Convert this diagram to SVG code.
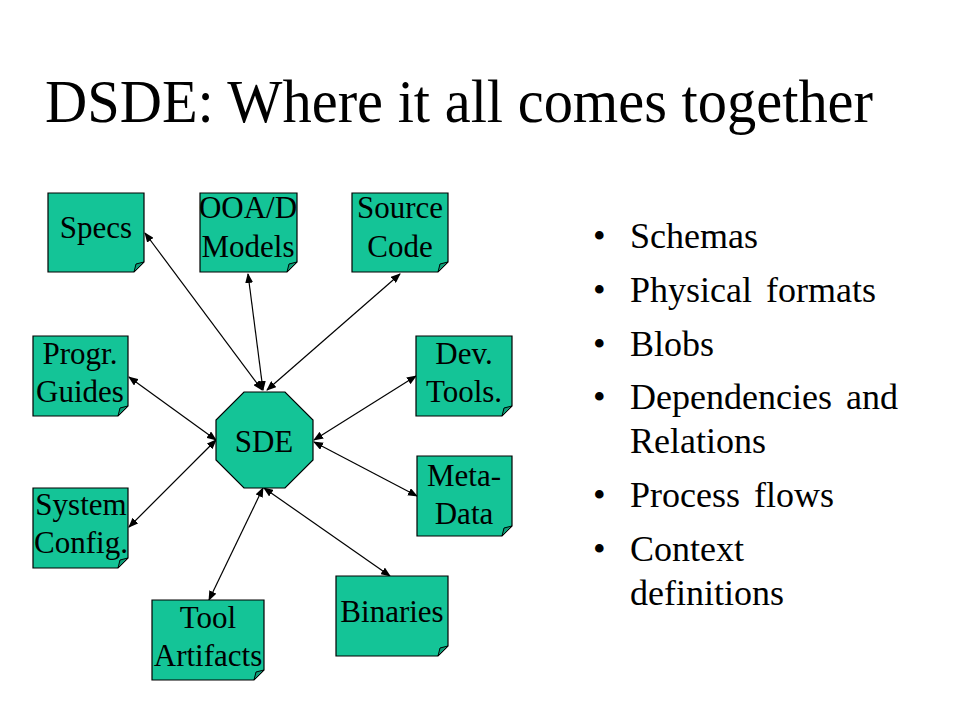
<svg xmlns="http://www.w3.org/2000/svg" width="960" height="720" viewBox="0 0 960 720">
<defs>
<style>
.box{fill:#14C497;stroke:#000;stroke-width:1.2}
.fold{fill:#0E9C76;stroke:#000;stroke-width:1}
.lbl{font-family:"Liberation Serif","Times New Roman",serif;font-size:31px;fill:#000;text-anchor:middle}
.conn{stroke:#000;stroke-width:1.2;fill:none;marker-start:url(#ah);marker-end:url(#ah)}
.bul{font-family:"Liberation Serif","Times New Roman",serif;font-size:36px;fill:#000;word-spacing:5px}
</style>
<marker id="ah" viewBox="0 0 10 8" refX="9" refY="4" markerWidth="10" markerHeight="8" markerUnits="userSpaceOnUse" orient="auto-start-reverse">
<path d="M0,0 L10,4 L0,8 z" fill="#000"/>
</marker>
</defs>
<rect width="960" height="720" fill="#fff"/>
<text x="45" y="122" font-family="Liberation Serif,Times New Roman,serif" font-size="62" textLength="828" lengthAdjust="spacingAndGlyphs">DSDE: Where it all comes together</text>

<g id="connectors">
<line class="conn" x1="145" y1="233" x2="262" y2="390"/>
<line class="conn" x1="248" y1="274" x2="263" y2="390"/>
<line class="conn" x1="400" y1="274" x2="267" y2="390"/>
<line class="conn" x1="129" y1="377" x2="216" y2="440"/>
<line class="conn" x1="129" y1="527" x2="216" y2="440"/>
<line class="conn" x1="416" y1="376" x2="314" y2="440"/>
<line class="conn" x1="314" y1="442" x2="417" y2="496"/>
<line class="conn" x1="209" y1="600" x2="263" y2="488"/>
<line class="conn" x1="264" y1="488" x2="390" y2="576"/>
</g>

<g id="specs">
<path class="box" d="M48,193 H144 V262 L134,272 H48 Z"/>
<path class="fold" d="M134,272 L144,262 L136,264 Z"/>
<text class="lbl" x="96" y="238">Specs</text>
</g>
<g id="ooad">
<path class="box" d="M200,193 H297 V262 L287,272 H200 Z"/>
<path class="fold" d="M287,272 L297,262 L289,264 Z"/>
<text class="lbl" x="248" y="218">OOA/D</text>
<text class="lbl" x="248" y="257">Models</text>
</g>
<g id="source">
<path class="box" d="M352,193 H448 V262 L438,272 H352 Z"/>
<path class="fold" d="M438,272 L448,262 L440,264 Z"/>
<text class="lbl" x="400" y="218">Source</text>
<text class="lbl" x="400" y="257">Code</text>
</g>
<g id="progr">
<path class="box" d="M33,336 H128 V406 L118,416 H33 Z"/>
<path class="fold" d="M118,416 L128,406 L120,408 Z"/>
<text class="lbl" x="80" y="364">Progr.</text>
<text class="lbl" x="80" y="402">Guides</text>
</g>
<g id="devtools">
<path class="box" d="M416,336 H512 V406 L502,416 H416 Z"/>
<path class="fold" d="M502,416 L512,406 L504,408 Z"/>
<text class="lbl" x="464" y="364">Dev.</text>
<text class="lbl" x="464" y="402">Tools.</text>
</g>
<g id="sde">
<polygon class="box" points="244,392 285,392 313,420 313,460 285,488 244,488 216,460 216,420"/>
<text class="lbl" x="264" y="452">SDE</text>
</g>
<g id="metadata">
<path class="box" d="M417,456 H512 V526 L502,536 H417 Z"/>
<path class="fold" d="M502,536 L512,526 L504,528 Z"/>
<text class="lbl" x="464" y="486">Meta-</text>
<text class="lbl" x="464" y="524">Data</text>
</g>
<g id="sysconfig">
<path class="box" d="M33,488 H128 V558 L118,568 H33 Z"/>
<path class="fold" d="M118,568 L128,558 L120,560 Z"/>
<text class="lbl" x="81" y="515">System</text>
<text class="lbl" x="81" y="553">Config.</text>
</g>
<g id="toolartifacts">
<path class="box" d="M152,600 H264 V670 L254,680 H152 Z"/>
<path class="fold" d="M254,680 L264,670 L256,672 Z"/>
<text class="lbl" x="208" y="628">Tool</text>
<text class="lbl" x="208" y="666">Artifacts</text>
</g>
<g id="binaries">
<path class="box" d="M336,576 H448 V646 L438,656 H336 Z"/>
<path class="fold" d="M438,656 L448,646 L440,648 Z"/>
<text class="lbl" x="392" y="622">Binaries</text>
</g>

<g id="bullets">
<text class="bul" x="593" y="248">•</text><text class="bul" x="630" y="248">Schemas</text>
<text class="bul" x="593" y="302">•</text><text class="bul" x="630" y="302">Physical formats</text>
<text class="bul" x="593" y="356">•</text><text class="bul" x="630" y="356">Blobs</text>
<text class="bul" x="593" y="409">•</text><text class="bul" x="630" y="409">Dependencies and</text>
<text class="bul" x="630" y="453">Relations</text>
<text class="bul" x="593" y="507">•</text><text class="bul" x="630" y="507">Process flows</text>
<text class="bul" x="593" y="561">•</text><text class="bul" x="630" y="561">Context</text>
<text class="bul" x="630" y="605">definitions</text>
</g>
</svg>
